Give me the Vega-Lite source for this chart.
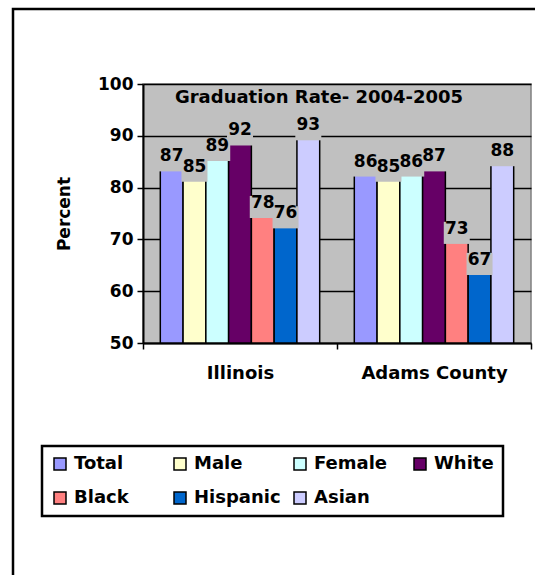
{
  "$schema": "https://vega.github.io/schema/vega-lite/v6.json",
  "autosize": "none",
  "padding": {"left": 143, "top": 84, "right": 4, "bottom": 232},
  "width": 388,
  "height": 259,
  "background": "white",
  "title": {
    "text": "Graduation Rate- 2004-2005",
    "font": "DejaVu Sans",
    "fontSize": 18,
    "fontWeight": "bold",
    "color": "black",
    "frame": "group",
    "offset": -99,
    "dx": -18
  },
  "data": {
    "values": [
      {"region": "Illinois", "group": "Total", "rate": 87},
      {"region": "Illinois", "group": "Male", "rate": 85},
      {"region": "Illinois", "group": "Female", "rate": 89},
      {"region": "Illinois", "group": "White", "rate": 92},
      {"region": "Illinois", "group": "Black", "rate": 78},
      {"region": "Illinois", "group": "Hispanic", "rate": 76},
      {"region": "Illinois", "group": "Asian", "rate": 93},
      {"region": "Adams County", "group": "Total", "rate": 86},
      {"region": "Adams County", "group": "Male", "rate": 85},
      {"region": "Adams County", "group": "Female", "rate": 86},
      {"region": "Adams County", "group": "White", "rate": 87},
      {"region": "Adams County", "group": "Black", "rate": 73},
      {"region": "Adams County", "group": "Hispanic", "rate": 67},
      {"region": "Adams County", "group": "Asian", "rate": 88}
    ]
  },
  "encoding": {
    "x": {
      "field": "region",
      "type": "nominal",
      "sort": ["Illinois", "Adams County"],
      "scale": {"paddingInner": 0, "paddingOuter": 0},
      "axis": {
        "title": null,
        "labelAngle": 0,
        "labelFont": "DejaVu Sans",
        "labelFontSize": 18,
        "labelFontWeight": "bold",
        "labelColor": "black",
        "labelPadding": 15,
        "tickBand": "extent",
        "tickColor": "black",
        "tickWidth": 1.5,
        "tickSize": 6,
        "domainColor": "black",
        "domainWidth": 2
      }
    },
    "xOffset": {
      "field": "group",
      "type": "nominal",
      "sort": ["Total", "Male", "Female", "White", "Black", "Hispanic", "Asian"],
      "scale": {"paddingInner": 0, "paddingOuter": 0.76}
    },
    "y": {
      "field": "rate",
      "type": "quantitative",
      "scale": {"domain": [50, 100], "zero": false, "nice": false, "clamp": true},
      "axis": {
        "title": "Percent",
        "titleFont": "DejaVu Sans",
        "titleFontSize": 17,
        "titleFontWeight": "bold",
        "titleColor": "black",
        "titlePadding": 24,
        "values": [50, 60, 70, 80, 90, 100],
        "labelFont": "DejaVu Sans",
        "labelFontSize": 17,
        "labelFontWeight": "bold",
        "labelColor": "black",
        "labelPadding": 4,
        "tickColor": "black",
        "tickWidth": 1.5,
        "tickSize": 6,
        "domainColor": "black",
        "domainWidth": 2,
        "grid": true,
        "gridColor": "black",
        "gridWidth": 1.5
      }
    }
  },
  "layer": [
    {
      "mark": {"type": "bar", "stroke": "black", "strokeWidth": 1.5},
      "encoding": {
        "color": {
          "field": "group",
          "type": "nominal",
          "sort": ["Total", "Male", "Female", "White", "Black", "Hispanic", "Asian"],
          "scale": {
            "domain": ["Total", "Male", "Female", "White", "Black", "Hispanic", "Asian"],
            "range": ["#9999ff", "#ffffcc", "#ccffff", "#660066", "#ff8080", "#0066cc", "#ccccff"]
          },
          "legend": {
            "title": null,
            "orient": "none",
            "legendX": -101,
            "legendY": 362,
            "direction": "horizontal",
            "columns": 4,
            "gridAlign": "all",
            "columnPadding": 10,
            "rowPadding": 16,
            "symbolType": "square",
            "symbolSize": 144,
            "symbolStrokeColor": "black",
            "symbolStrokeWidth": 1.5,
            "symbolOpacity": 1,
            "labelFont": "DejaVu Sans",
            "labelFontSize": 18,
            "labelFontWeight": "bold",
            "labelColor": "black",
            "labelOffset": 5,
            "strokeColor": "black",
            "padding": 9
          }
        },
        "strokeDash": {
          "datum": "chart",
          "type": "nominal",
          "scale": {"range": [[1, 0]]},
          "legend": {
            "title": null,
            "orient": "none",
            "legendX": -130,
            "legendY": -75,
            "symbolOpacity": 0,
            "symbolSize": 1,
            "labelExpr": "''",
            "labelFontSize": 1,
            "strokeColor": "black",
            "padding": 290
          }
        }
      }
    },
    {
      "mark": {
        "type": "point",
        "shape": "M-1,-0.85L1,-0.85L1,0.85L-1,0.85Z",
        "filled": true,
        "fill": "#c0c0c0",
        "opacity": 1,
        "strokeWidth": 0,
        "size": 676,
        "yOffset": 9
      },
      "encoding": {}
    },
    {
      "mark": {
        "type": "text",
        "font": "DejaVu Sans",
        "fontSize": 17,
        "fontWeight": "bold",
        "color": "black",
        "baseline": "middle",
        "dy": 5
      },
      "encoding": {"text": {"field": "rate", "type": "quantitative"}}
    }
  ],
  "config": {
    "view": {"fill": "#c0c0c0", "stroke": "#808080", "strokeWidth": 1.5},
    "legend": {"strokeWidth": 2.5}
  }
}
